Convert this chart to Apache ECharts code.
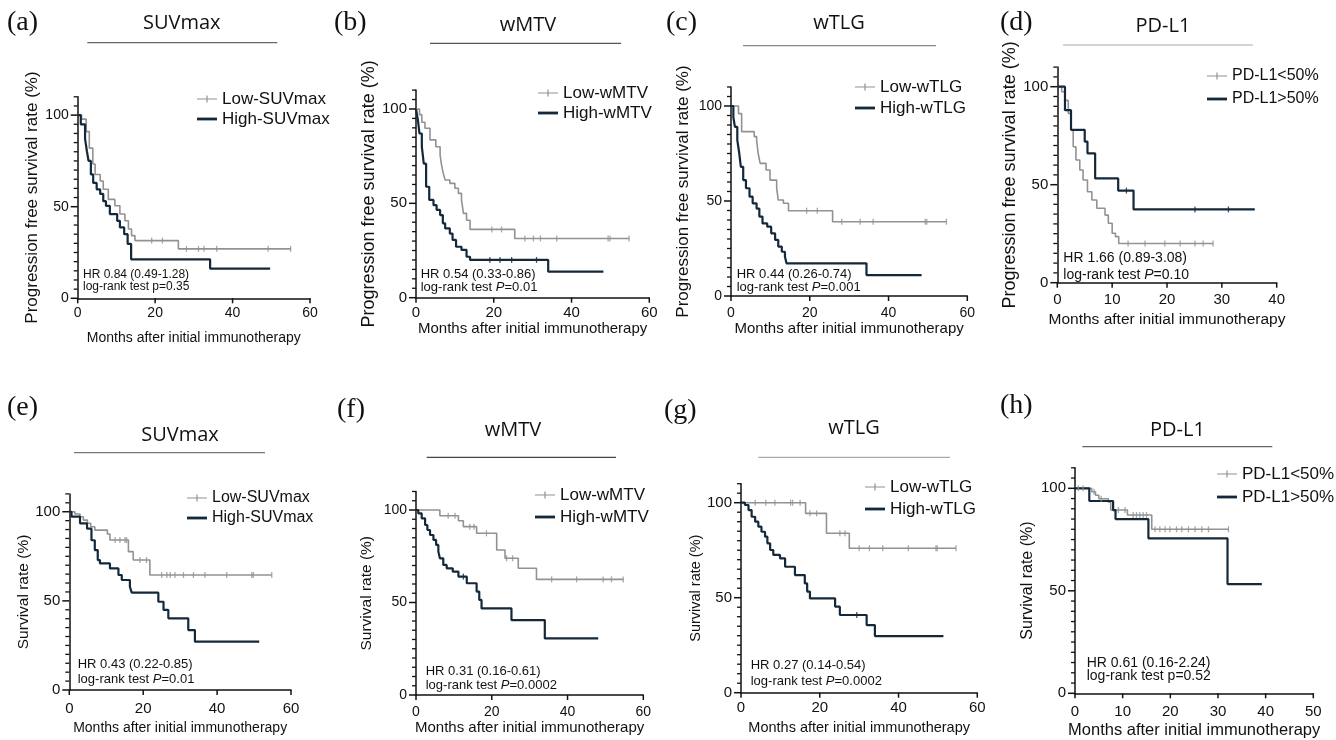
<!DOCTYPE html>
<html>
<head>
<meta charset="utf-8">
<script src="https://cdn.jsdelivr.net/npm/echarts@6/dist/echarts.min.js"></script>
<style>
html, body { margin: 0; padding: 0; background: #fff; }
#main { width: 1336px; height: 740px; }
</style>
</head>
<body>
<div id="main"></div>
<script>
// Kaplan-Meier curves: [month, survival %] after each drop, last point = end of follow-up.
// *Cens = months where a censored patient is marked on the curve.

// (a) PFS by SUVmax
var aLow = [[0,100],[1,97.8],[2.2,91],[3,82],[3.9,73.3],[4.5,67.6],[5.8,64],[6.6,59.5],[7.9,54],[9.6,50.5],[10.9,46],[12.2,42.3],[13.1,37.8],[13.9,34.2],[14.8,31.5],[26,27],[55,27]];
var aLowCens = [19.1, 21.9, 28.1, 31.2, 32.6, 35.9, 49.2, 55];
var aHigh = [[0,100],[0.8,95],[1.9,87],[2.4,80],[2.8,75],[3.4,67.6],[4,63],[4.9,59.5],[5.8,57],[6.6,53],[7.3,50.5],[8.3,46],[10.2,42.3],[10.9,38.7],[12,35],[12.9,29.7],[13.8,21.3],[34.2,16.2],[49.7,16.2]];
var aHighCens = [];

// (b) PFS by wMTV
var bLow = [[0,100],[0.9,97],[1.5,93],[2.3,89.8],[3.6,83.6],[5.1,80],[6.2,75.6],[6.6,70],[7,66],[7.5,62.4],[8.7,60.6],[10,58],[10.9,55.3],[11.7,51.8],[12.2,44.7],[13,41],[13.9,36.2],[25.4,31.4],[54.8,31.4]];
var bLowCens = [19.5, 22, 28, 30.2, 32, 36.2, 49.4, 49.9, 54.8];
var bHigh = [[0,100],[0.5,94],[0.9,87],[1.5,80],[2,71],[2.6,58.8],[3.4,51.8],[4.5,49],[5.3,46.5],[6.2,43.8],[6.9,39.4],[7.5,36.7],[8.7,34],[9.4,30.6],[10.3,27],[11.7,25.3],[13,21.7],[13.9,20],[34,13.8],[48.2,13.8]];
var bHighCens = [19, 21.6, 24.6, 31];

// (c) PFS by wTLG
var cLow = [[0,100],[1.9,96],[2.7,86.5],[5.9,83.9],[6.5,82],[6.9,75],[7.4,69.8],[8.9,66.3],[9.9,61],[11.6,56.7],[12,50.5],[13.3,48.8],[14.6,44.9],[25.8,39.1],[54.7,39.1]];
var cLowCens = [19.2, 21.9, 28.1, 32.8, 36.1, 49.3, 49.7, 54.7];
var cHigh = [[0,100],[0.6,94],[1,89],[1.6,82],[2.1,75],[2.5,68],[3.1,61],[3.8,56.7],[4.7,52.3],[5.5,48.8],[6.5,46],[7.2,41.8],[8,38.2],[9.2,36.5],[10.2,33],[11.2,29.5],[12,26],[12.9,23.3],[13.7,20.7],[14.1,17.2],[34.4,11],[48.4,11]];
var cHighCens = [];

// (d) PFS by PD-L1
var dLow = [[0,100],[0.8,97.4],[1.4,93],[2,86.4],[2.5,78],[2.9,69.4],[3.4,62.6],[4.1,57.5],[4.7,52.4],[5.5,46.4],[6.3,42.2],[7.2,38],[8.7,34.5],[9.3,30.3],[10,25.2],[10.6,23.5],[11.2,20],[28.4,20]];
var dLowCens = [12.9, 16, 19.6, 22.4, 25.1, 26.6, 28.4];
var dHigh = [[0,100],[1.4,88],[2.5,78],[5,72],[5.5,66],[6.9,53.2],[11.1,47],[13.9,37.4],[36,37.4]];
var dHighCens = [12.6, 25.1, 31.2];

// (e) OS by SUVmax
var eLow = [[0,100],[1.5,98.7],[2.9,97.2],[3.8,95.3],[4.9,93.5],[5.8,91.6],[6.9,89.7],[10.3,87.5],[11,84.1],[16,77.6],[17.3,72.9],[21.8,64.5],[54.8,64.5]];
var eLowCens = [12.4, 13.7, 15.1, 15.5, 19.1, 20.9, 25, 26.4, 27.3, 28.6, 30.9, 33.6, 36.7, 42.6, 49.4, 49.8, 54.8];
var eHigh = [[0,100],[0.6,97.2],[2.9,93.5],[4.8,90.5],[6,84],[6.9,78.5],[7.7,72.9],[8.3,71],[11,68.2],[13.3,64.5],[14.2,61.7],[16.4,57.9],[16.9,54.6],[24.1,49.5],[25.5,44.9],[26.8,40.2],[32.2,33.6],[34,27.1],[51.4,27.1]];
var eHighCens = [];

// (f) OS by wMTV
var fLow = [[0,100],[6.3,96.9],[11.2,94.2],[12.5,91],[16,87.4],[21.3,78.4],[23.5,73.9],[27,68.5],[31.8,62.5],[54.7,62.5]];
var fLowCens = [8.5, 10.3, 14.2, 15.3, 18.6, 23.9, 25.5, 35.8, 42.4, 49.4, 51.6, 54.7];
var fHigh = [[0,100],[0.6,98.2],[1.5,95.5],[2.4,91.9],[3,89.2],[3.7,86.5],[4.6,83.8],[5.3,81.1],[5.9,77.5],[6.3,73.9],[7.2,70.3],[8.1,68.5],[9.7,66.7],[11.2,64],[13.4,60.4],[16,55.9],[16.7,51.4],[17.3,46.8],[25.2,40.5],[34,30.6],[48.1,30.6]];
var fHighCens = [12.5];

// (g) OS by wTLG
var gLow = [[0,100],[16.4,94.4],[21.7,83.9],[27.5,76],[54.6,76]];
var gLowCens = [3.6, 6.3, 8.6, 12.6, 13.1, 15, 17.5, 19.2, 25.1, 26.4, 30, 32.6, 36, 42.5, 49.5, 49.8, 54.6];
var gHigh = [[0,100],[1,98.8],[1.9,96.1],[2.7,92.6],[3.6,90],[4.4,87.4],[5.2,84.7],[6.1,82.1],[6.7,78.6],[7.4,75.1],[8.2,72.5],[9.9,70.7],[11.2,66.3],[13.7,61.9],[16.2,57.5],[16.8,53.2],[17.5,49.6],[23.9,45.3],[25.1,40.9],[31.9,35.6],[34,29.8],[51.4,29.8]];
var gHighCens = [29.4];

// (h) OS by PD-L1
var hLow = [[0,100],[3.5,98.3],[4.3,96.6],[5,94.9],[7,93.2],[7.5,89.4],[11,87],[16.1,80],[32.2,80]];
var hLowCens = [0.7, 1.7, 4, 5.5, 9.1, 10.5, 12.2, 12.9, 13.6, 14.3, 15, 16.8, 17.8, 18.9, 19.9, 21.3, 22.4, 23.8, 25.2, 26.6, 28, 32.2];
var hHigh = [[0,100],[3,93.8],[8,89.4],[8.5,85],[15.4,75.6],[32,53.3],[39.2,53.3]];
var hHighCens = [];

var yTicks = [0, 50, 100];
var yMinorStep = 5;
var pfsTitle = 'Progression free survival rate (%)';
var osTitle = 'Survival rate (%)';
var xTitle = 'Months after initial immunotherapy';

var FONT = 'Liberation Sans, Arial, sans-serif';
var GRAY = '#929292', DARK = '#13293b', INK = '#111';
var lowIcon = 'path://M0,3.4H20V4.6H0Z M9.4,0.6H10.6V7.4H9.4Z';
var highIcon = 'path://M0,2.6H20V5.4H0Z';

// layout: g = grid [left, top, width, height]
var panels = [
  { tag: '(a)', title: 'SUVmax', low: aLow, lowCens: aLowCens, high: aHigh, highCens: aHighCens,
    names: ['Low-SUVmax', 'High-SUVmax'], yName: pfsTitle, hr: 'HR 0.84 (0.49-1.28)', pLetter: 'p', pItalic: false, pVal: '=0.35',
    g: [77.7, 96.8, 232.3, 201.5], xMax: 60, xStep: 20, tickFs: 14, xMargin: 8, xFs: 14, xGap: 33, yFs: 17, yGap: 37,
    tagPos: [7, 23], titlePos: [181.7, 23.3], rule: [87.3, 277.3, 42.7, '#666'],
    leg: [192, 85, 17, 2], hrPos: [83, 275, 287, 12] },
  { tag: '(b)', title: 'wMTV', low: bLow, lowCens: bLowCens, high: bHigh, highCens: bHighCens,
    names: ['Low-wMTV', 'High-wMTV'], yName: pfsTitle, hr: 'HR 0.54 (0.33-0.86)', pLetter: 'P', pItalic: true, pVal: '=0.01',
    g: [416, 90.1, 233.3, 207.6], xMax: 60, xStep: 20, tickFs: 15, xMargin: 8, xFs: 15, xGap: 20, yFs: 18, yGap: 38,
    tagPos: [334, 23], titlePos: [528, 25], rule: [430, 621, 43.3, '#555'],
    leg: [533, 79, 17, 2], hrPos: [420.7, 274.3, 287.3, 13] },
  { tag: '(c)', title: 'wTLG', low: cLow, lowCens: cLowCens, high: cHigh, highCens: cHighCens,
    names: ['Low-wTLG', 'High-wTLG'], yName: pfsTitle, hr: 'HR 0.44 (0.26-0.74)', pLetter: 'P', pItalic: true, pVal: '=0.001',
    g: [731, 87, 236.3, 209], xMax: 60, xStep: 20, tickFs: 14, xMargin: 10, xFs: 15, xGap: 25, yFs: 17, yGap: 39.5,
    tagPos: [666, 23], titlePos: [839, 23.3], rule: [743, 936, 45.7, '#888'],
    leg: [850, 73, 17, 3], hrPos: [736.7, 274, 287.3, 13] },
  { tag: '(d)', title: 'PD-L1', low: dLow, lowCens: dLowCens, high: dHigh, highCens: dHighCens,
    names: ['PD-L1<50%', 'PD-L1>50%'], yName: pfsTitle, hr: 'HR 1.66 (0.89-3.08)', pLetter: 'P', pItalic: true, pVal: '=0.10',
    g: [1057.3, 67.1, 219.4, 215.6], xMax: 40, xStep: 10, tickFs: 15, xMargin: 10, xFs: 15.5, xGap: 29.5, yFs: 18, yGap: 32,
    tagPos: [1000, 23], titlePos: [1163, 26.7], rule: [1063, 1253, 45, '#aaa'],
    leg: [1202, 62.5, 16, 6], hrPos: [1063.3, 258.3, 275, 14] },
  { tag: '(e)', title: 'SUVmax', low: eLow, lowCens: eLowCens, high: eHigh, highCens: eHighCens,
    names: ['Low-SUVmax', 'High-SUVmax'], yName: osTitle, hr: 'HR 0.43 (0.22-0.85)', pLetter: 'P', pItalic: true, pVal: '=0.01',
    g: [69.3, 493.9, 221.7, 196.1], xMax: 60, xStep: 20, tickFs: 15, xMargin: 11, xFs: 14, xGap: 31, yFs: 15.5, yGap: 36,
    tagPos: [7, 408], titlePos: [180, 435], rule: [74, 265, 452.7, '#777'],
    leg: [182, 484.5, 16, 3], hrPos: [77.7, 664.3, 679.3, 13] },
  { tag: '(f)', title: 'wMTV', low: fLow, lowCens: fLowCens, high: fHigh, highCens: fHighCens,
    names: ['Low-wMTV', 'High-wMTV'], yName: osTitle, hr: 'HR 0.31 (0.16-0.61)', pLetter: 'P', pItalic: true, pVal: '=0.0002',
    g: [416, 491.5, 227.3, 203.5], xMax: 60, xStep: 20, tickFs: 14, xMargin: 10, xFs: 15, xGap: 25, yFs: 15.5, yGap: 41,
    tagPos: [337, 410], titlePos: [513, 430], rule: [426.7, 616, 457.3, '#444'],
    leg: [530, 481, 17, 4], hrPos: [425.7, 671.7, 685, 13] },
  { tag: '(g)', title: 'wTLG', low: gLow, lowCens: gLowCens, high: gHigh, highCens: gHighCens,
    names: ['Low-wTLG', 'High-wTLG'], yName: osTitle, hr: 'HR 0.27 (0.14-0.54)', pLetter: 'P', pItalic: true, pVal: '=0.0002',
    g: [741, 483.7, 236.3, 209], xMax: 60, xStep: 20, tickFs: 15, xMargin: 8, xFs: 14.5, xGap: 28, yFs: 14.5, yGap: 34.5,
    tagPos: [664, 411], titlePos: [854, 428.3], rule: [758.3, 950, 457.3, '#aaa'],
    leg: [860, 473, 17, 4], hrPos: [750.7, 665, 681.7, 13] },
  { tag: '(h)', title: 'PD-L1', low: hLow, lowCens: hLowCens, high: hHigh, highCens: hHighCens,
    names: ['PD-L1<50%', 'PD-L1>50%'], yName: osTitle, hr: 'HR 0.61 (0.16-2.24)', pLetter: 'p', pItalic: false, pVal: '=0.52',
    g: [1075, 467.8, 238.3, 225.5], xMax: 50, xStep: 10, tickFs: 15, xMargin: 11, xFs: 16.5, xGap: 28.5, yFs: 16, yGap: 39,
    tagPos: [1000, 406], titlePos: [1177.5, 430], rule: [1082.3, 1272.3, 446.7, '#666'],
    leg: [1212, 460, 17, 5], hrPos: [1086.7, 663.3, 676, 14] }
];

function survAt(curve, t) {
  var s = curve[0][1];
  for (var i = 0; i < curve.length; i++) {
    if (curve[i][0] <= t) s = curve[i][1];
  }
  return s;
}

function censPoints(curve, times) {
  return times.map(function (t) { return [t, survAt(curve, t)]; });
}

var grids = [], xAxes = [], yAxes = [], series = [], legends = [], graphics = [];

panels.forEach(function (p, k) {
  grids.push({ left: p.g[0], top: p.g[1], width: p.g[2], height: p.g[3] });

  xAxes.push({
    type: 'value', gridIndex: k, min: 0, max: p.xMax, interval: p.xStep,
    name: xTitle, nameLocation: 'middle', nameGap: p.xGap,
    nameTextStyle: { fontSize: p.xFs, color: INK, fontFamily: FONT },
    axisLine: { show: true, lineStyle: { color: INK, width: 1.5 } },
    axisTick: { show: false },
    axisLabel: { fontSize: p.tickFs, color: INK, fontFamily: FONT, margin: p.xMargin },
    splitLine: { show: false }
  });

  yAxes.push({
    type: 'value', gridIndex: k, position: 'left', min: 0, max: 110, interval: 50,
    name: p.yName, nameLocation: 'middle', nameGap: p.yGap,
    nameTextStyle: { fontSize: p.yFs, color: INK, fontFamily: FONT },
    axisLine: { show: true, lineStyle: { color: INK, width: 1.5 } },
    axisTick: { show: false },
    axisLabel: { customValues: yTicks, fontSize: p.tickFs, color: INK, fontFamily: FONT, margin: 9,
      formatter: function (v) { return v > 100 ? '' : String(v); } },
    splitLine: { show: false }
  });

  var groups = [
    { name: p.names[0], data: p.low, cens: p.lowCens, color: GRAY, width: 1.6 },
    { name: p.names[1], data: p.high, cens: p.highCens, color: DARK, width: 2.2 }
  ];
  groups.forEach(function (gr, j) {
    series.push({
      name: gr.name, type: 'line', step: 'end', xAxisIndex: k, yAxisIndex: k,
      data: gr.data, showSymbol: false, symbol: 'none',
      lineStyle: { color: gr.color, width: gr.width },
      itemStyle: { color: gr.color },
      z: j === 1 ? 3 : 2
    });
    if (gr.cens.length) {
      series.push({
        name: 'cens-' + k + '-' + j, type: 'scatter', xAxisIndex: k, yAxisIndex: k,
        data: censPoints(gr.data, gr.cens), symbol: 'rect', symbolSize: [1.3, 6],
        itemStyle: { color: gr.color }, z: 4
      });
    }
  });

  legends.push({
    left: p.leg[0], top: p.leg[1], orient: 'vertical',
    itemWidth: 20, itemHeight: 8, itemGap: p.leg[3], symbolKeepAspect: true,
    selectedMode: false,
    textStyle: { fontSize: p.leg[2], lineHeight: p.leg[2] + 1, color: INK, fontFamily: FONT },
    data: [{ name: p.names[0], icon: lowIcon }, { name: p.names[1], icon: highIcon }]
  });

  graphics.push({
    type: 'text', x: p.tagPos[0], y: p.tagPos[1],
    style: { text: p.tag, fontSize: 28, fontFamily: 'Liberation Serif, Times New Roman, serif', fill: INK, verticalAlign: 'middle' }
  });
  graphics.push({
    type: 'text', x: p.titlePos[0], y: p.titlePos[1],
    style: { text: p.title, fontSize: 20, fontFamily: 'Open Sans, Liberation Sans, sans-serif', fill: INK, align: 'center', verticalAlign: 'middle' }
  });
  graphics.push({
    type: 'line', shape: { x1: p.rule[0], y1: p.rule[2], x2: p.rule[1], y2: p.rule[2] },
    style: { stroke: p.rule[3], lineWidth: 1.2 }
  });
  var fs = p.hrPos[3];
  graphics.push({
    type: 'text', x: p.hrPos[0], y: p.hrPos[1], z: 10,
    style: { text: p.hr, fontSize: fs, fontFamily: FONT, fill: INK, verticalAlign: 'middle' }
  });
  graphics.push({
    type: 'text', x: p.hrPos[0], y: p.hrPos[2], z: 10,
    style: {
      text: '{n|log-rank test }{i|' + p.pLetter + '}{n|' + p.pVal + '}',
      verticalAlign: 'middle',
      rich: {
        n: { fontSize: fs, fontFamily: FONT, fill: INK },
        i: { fontSize: fs, fontFamily: FONT, fill: INK, fontStyle: p.pItalic ? 'italic' : 'normal' }
      }
    }
  });
});

var chart = echarts.init(document.getElementById('main'));
chart.setOption({
  backgroundColor: '#fff',
  animation: false,
  grid: grids,
  xAxis: xAxes,
  yAxis: yAxes,
  legend: legends,
  series: series,
  graphic: { elements: graphics }
});

// tick marks, placed with the axes' own scales once the layout exists
function tickLine(x1, y1, x2, y2, w) {
  return { type: 'line', z: 5, shape: { x1: x1, y1: y1, x2: x2, y2: y2 }, style: { stroke: INK, lineWidth: w } };
}
var ticks = [];
panels.forEach(function (p, k) {
  var x0 = chart.convertToPixel({ xAxisIndex: k }, 0);
  var y0 = chart.convertToPixel({ yAxisIndex: k }, 0);
  for (var v = 0; v <= p.xMax; v += p.xStep) {
    var x = chart.convertToPixel({ xAxisIndex: k }, v);
    ticks.push(tickLine(x, y0, x, y0 + 5, 1.5));
  }
  for (var m = 0; m <= 110; m += yMinorStep) {
    var y = chart.convertToPixel({ yAxisIndex: k }, m);
    var major = yTicks.indexOf(m) >= 0;
    ticks.push(tickLine(x0 - (major ? 7 : 4), y, x0, y, major ? 1.5 : 1.3));
  }
});
chart.setOption({ graphic: { elements: graphics.concat(ticks) } });
</script>
</body>
</html>
